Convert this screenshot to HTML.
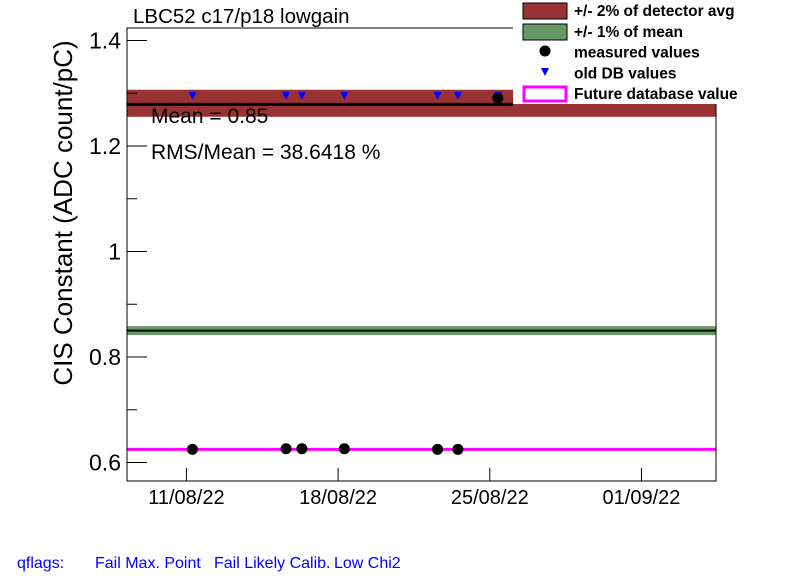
<!DOCTYPE html>
<html><head><meta charset="utf-8"><style>
body{margin:0;background:#fff;}
svg text{font-family:"Liberation Sans",sans-serif;}
</style></head><body>
<svg id="c" width="796" height="574" xmlns="http://www.w3.org/2000/svg"></svg>
<script>
const measDays=[11.28,15.6,16.33,18.29,22.59,23.53,25.37];
const measVals=[0.625,0.626,0.626,0.626,0.625,0.625,1.291];
const oldDays=[11.28,15.6,16.33,18.29,22.59,23.53,25.37];
const oldVals=[1.295,1.295,1.295,1.295,1.295,1.295,1.295];
const yTicks=[0.6,0.8,1,1.2,1.4];
const yTickLabels=["0.6","0.8","1","1.2","1.4"];
const xTickDays=[11,18,25,32];
const xTickLabels=["11/08/22","18/08/22","25/08/22","01/09/22"];
const detAvg=1.281, meanVal=0.85, futureVal=0.625, blackLineVal=1.279;

const NS="http://www.w3.org/2000/svg";
const svg=document.getElementById('c');
const L=127,R=716,T=28,B=481;
const X=d=>186.4+(d-11)*21.67;
const Y=v=>462.5-(v-0.6)*527.5;
function mk(tag,attrs,parent){const e=document.createElementNS(NS,tag);for(const k in attrs)e.setAttribute(k,attrs[k]);(parent||svg).appendChild(e);return e;}
function txt(s,attrs){const e=mk('text',attrs);e.textContent=s;return e;}

let e=mk('rect',{x:L,y:Y(detAvg*1.02),width:R-L,height:Y(detAvg*0.98)-Y(detAvg*1.02),fill:'#993333'});


e=mk('line',{x1:L,x2:513,y1:Y(blackLineVal),y2:Y(blackLineVal),stroke:'#000','stroke-width':3});


e=mk('rect',{x:L,y:Y(meanVal*1.01),width:R-L,height:Y(meanVal*0.99)-Y(meanVal*1.01),fill:'#669966'});


e=mk('line',{x1:L,x2:R,y1:Y(meanVal),y2:Y(meanVal),stroke:'#000','stroke-width':2});


e=mk('line',{x1:L,x2:R,y1:Y(futureVal),y2:Y(futureVal),stroke:'#ff00ff','stroke-width':3});


oldDays.forEach((d,i)=>{const x=X(d),y=Y(oldVals[i]);
 const p=mk('polygon',{points:`${x-4},${y-4} ${x+4},${y-4} ${x},${y+4}`,fill:'#0000ff'});
 
 });
measDays.forEach((d,i)=>{const c=mk('circle',{cx:X(d),cy:Y(measVals[i]),r:5.5,fill:'#000'});
 
 });
e=mk('rect',{x:L,y:T,width:R-L,height:B-T,fill:'none',stroke:'#000','stroke-width':1});


yTicks.forEach((v,i)=>{mk('line',{x1:L,x2:L+20,y1:Y(v),y2:Y(v),stroke:'#000'});
 const t=txt(yTickLabels[i],{x:121,y:Y(v)+8,'font-size':23,'text-anchor':'end'});
 
 });
for(let v=0.7;v<1.4;v+=0.2){mk('line',{x1:L,x2:L+10,y1:Y(v),y2:Y(v),stroke:'#000'});}
xTickDays.forEach((d,i)=>{mk('line',{x1:X(d),x2:X(d),y1:B,y2:B-13,stroke:'#000'});
 const t=txt(xTickLabels[i],{x:X(d),y:504,'font-size':20,'text-anchor':'middle'});
 
 });
e=txt('Mean = 0.85',{x:151,y:123,'font-size':21});


e=txt('RMS/Mean = 38.6418 %',{x:151,y:159,'font-size':21});


e=txt('LBC52 c17/p18 lowgain',{x:133,y:23,'font-size':20.5});


e=txt('CIS Constant (ADC count/pC)',{x:0,y:0,'font-size':26,'text-anchor':'middle',transform:'translate(72,213) rotate(-90)'});


const lg=mk('g',{});


mk('rect',{x:513,y:0,width:283,height:104,fill:'#fff'},lg);
mk('rect',{x:523,y:3,width:44,height:16,fill:'#993333',stroke:'#000'},lg);
mk('rect',{x:523,y:24,width:44,height:16,fill:'#669966',stroke:'#000'},lg);
mk('circle',{cx:545,cy:51,r:5.5,fill:'#000'},lg);
mk('polygon',{points:'541,68 549,68 545,76',fill:'#0000ff'},lg);
mk('rect',{x:524,y:87,width:42,height:14,fill:'none',stroke:'#ff00ff','stroke-width':3},lg);
const legTxt=['+/- 2% of detector avg','+/- 1% of mean','measured values','old DB values','Future database value'];
legTxt.forEach((s,i)=>{const t=mk('text',{x:574,y:16+i*20.8,'font-size':15.5,'font-weight':'bold'},lg);t.textContent=s;
 
 });
[['qflags:',17],['Fail Max. Point',95],['Fail Likely Calib.',214],['Low Chi2',334]].forEach(([s,x])=>{
 const t=txt(s,{x:x,y:568,'font-size':16,fill:'#0000ff'});
 
 });
</script>
</body></html>
